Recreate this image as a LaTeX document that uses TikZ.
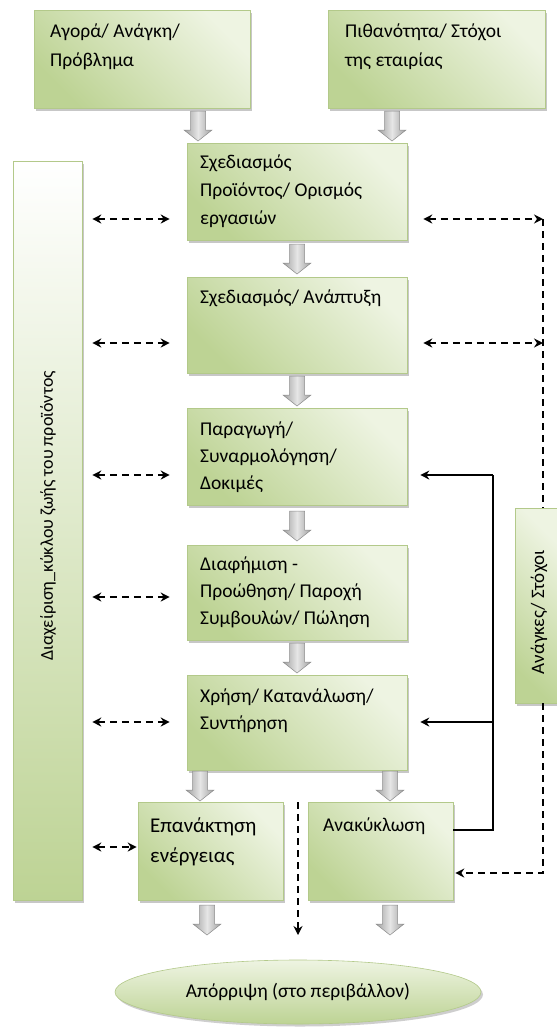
\documentclass[tikz,border=0pt]{standalone}
\usepackage{fontspec}
\setmainfont{Carlito}
\usetikzlibrary{shapes.geometric,shadows,arrows.meta}
\definecolor{boxdark}{HTML}{BDD394}
\definecolor{boxlight}{HTML}{EEF4E2}
\definecolor{boxline}{HTML}{B3C98A}
\definecolor{arrowdark}{HTML}{A0A0A0}
\definecolor{arrowlight}{HTML}{E6E6E6}
\definecolor{arrowline}{HTML}{8C8C8C}
% multi-line box caption, baseline of the first line as reference
\newcommand\blocklines[3]{\parbox[t]{8cm}{\raggedright\fontsize{#1}{#2}\selectfont #3}}

\begin{document}
\begin{tikzpicture}[x=1pt,y=-1pt,
  greenbox/.style={draw=boxline, line width=0.6pt,
    drop shadow={shadow xshift=2pt, shadow yshift=-2.5pt, fill=black!55, opacity=0.4},
    top color=boxlight, bottom color=boxdark, shading angle=-45, inner sep=0pt},
  sidebar/.style={draw=boxline, line width=0.6pt,
    drop shadow={shadow xshift=2pt, shadow yshift=-2.5pt, fill=black!55, opacity=0.4},
    top color=white, bottom color=boxdark, inner sep=0pt},
  boxtext/.style={anchor=base west, inner sep=0pt},
  dashline/.style={line width=1.8pt, dash pattern=on 7pt off 5pt},
  dasharrow/.style={dashline, {Stealth[length=9pt,width=9pt]}-{Stealth[length=9pt,width=9pt]}},
  dashtip/.style={dashline, -{Stealth[length=9pt,width=9pt]}},
  solidtip/.style={line width=1.3pt, -{Stealth[length=9pt,width=9pt]}},
  pics/downarrow/.style={code={
    \shade[draw=arrowline, line width=0.5pt, left color=arrowdark, right color=arrowdark, middle color=arrowlight]
      (-7.5,0) -- (7.5,0) -- (7.5,19) -- (14,19) -- (0,30) -- (-14,19) -- (-7.5,19) -- cycle;
  }}
]
\useasboundingbox (0,0) rectangle (557,1029);
\fill[white] (0,0) rectangle (557,1029);

% boxes
\node[greenbox, minimum width=216pt, minimum height=98pt] (A) at (142,59) {};
\node[greenbox, minimum width=217pt, minimum height=98pt] (B) at (436.5,59) {};
\node[greenbox, minimum width=220pt, minimum height=97pt] (C) at (297,191.5) {};
\node[greenbox, minimum width=220pt, minimum height=96pt] (D) at (297,325) {};
\node[greenbox, minimum width=220pt, minimum height=97pt] (E) at (297,456.5) {};
\node[greenbox, minimum width=220pt, minimum height=95pt] (F) at (297,592.5) {};
\node[greenbox, minimum width=220pt, minimum height=95pt] (G) at (297,722.5) {};
\node[greenbox, minimum width=145pt, minimum height=98pt] (H) at (210.5,851) {};
\node[greenbox, minimum width=145pt, minimum height=98pt] (I) at (380.5,851) {};
\node[sidebar, minimum width=69pt, minimum height=739pt] (bar) at (47.5,530.5) {};
\node[greenbox, minimum width=42pt, minimum height=195pt] (needs) at (536,605.5) {};
\node[ellipse, draw=boxline, line width=0.6pt,
  drop shadow={shadow xshift=2pt, shadow yshift=-2.5pt, fill=black!55, opacity=0.35},
  top color=boxlight, bottom color=boxdark, minimum width=366pt, minimum height=64pt,
  font=\fontsize{19.5}{23}\selectfont] (out) at (298,992) {Απόρριψη (στο περιβάλλον)};

% captions
\node[boxtext] (At) at (50,37) {\blocklines{19.5}{29}{Αγορά/ Ανάγκη/\\Πρόβλημα}};
\node[boxtext] (Bt) at (345,37) {\blocklines{19.5}{29}{Πιθανότητα/ Στόχοι\\της εταιρίας}};
\node[boxtext] (Ct) at (200,168) {\blocklines{19.5}{28}{Σχεδιασμός\\Προϊόντος/ Ορισμός\\εργασιών}};
\node[boxtext] (Dt) at (200,303) {\blocklines{19.5}{28}{Σχεδιασμός/ Ανάπτυξη}};
\node[boxtext] (Et) at (200,435) {\blocklines{19.5}{27}{Παραγωγή/\\Συναρμολόγηση/\\Δοκιμές}};
\node[boxtext] (Ft) at (200,570) {\blocklines{19.5}{27}{Διαφήμιση -\\Προώθηση/ Παροχή\\Συμβουλών/ Πώληση}};
\node[boxtext] (Gt) at (200,702) {\blocklines{19.5}{27}{Χρήση/ Κατανάλωση/\\Συντήρηση}};
\node[boxtext] (Ht) at (150,832) {\blocklines{21}{30}{Επανάκτηση\\ενέργειας}};
\node[boxtext] (It) at (323,831) {\blocklines{19.5}{28}{Ανακύκλωση}};
\node[rotate=90, inner sep=0pt, font=\fontsize{18}{22}\selectfont] (bart) at (48,516) {Διαχείριση\_κύκλου ζωής του προϊόντος};
\node[rotate=90, inner sep=0pt, font=\fontsize{19}{22}\selectfont] (needst) at (539,612) {Ανάγκες/ Στόχοι};

% flow arrows
\pic (aAC) at (198,111) {downarrow};
\pic (aBC) at (392,111) {downarrow};
\pic (aCD) at (297,244) {downarrow};
\pic (aDE) at (297,376) {downarrow};
\pic (aEF) at (297,511) {downarrow};
\pic (aFG) at (297,643) {downarrow};
\pic (aGH) at (200,771) {downarrow};
\pic (aGI) at (390,771) {downarrow};
\pic (aHo) at (207,905) {downarrow};
\pic (aIo) at (390,905) {downarrow};

% levels of the side links
\coordinate (yC) at (0,219);
\coordinate (yD) at (0,343);
\coordinate (yE) at (0,475);
\coordinate (yF) at (0,597);
\coordinate (yG) at (0,722);
\coordinate (yH) at (0,847);

% life-cycle management links
\draw[dasharrow] ([xshift=10pt]bar.east |- yC) -- ([xshift=-17pt]C.west |- yC);
\draw[dasharrow] ([xshift=10pt]bar.east |- yD) -- ([xshift=-17pt]D.west |- yD);
\draw[dasharrow] ([xshift=10pt]bar.east |- yE) -- ([xshift=-17pt]E.west |- yE);
\draw[dasharrow] ([xshift=10pt]bar.east |- yF) -- ([xshift=-17pt]F.west |- yF);
\draw[dasharrow] ([xshift=10pt]bar.east |- yG) -- ([xshift=-17pt]G.west |- yG);
\draw[dasharrow] ([xshift=10pt]bar.east |- yH) -- ([xshift=-1pt]H.west |- yH);

% needs / goals loop
\coordinate (rC) at (543,219);
\coordinate (rD) at (543,343);
\coordinate (rI) at (543,873);
\draw[dasharrow] ([xshift=16pt]C.east |- rC) -- (rC);
\draw[dasharrow] ([xshift=16pt]D.east |- rD) -- (rD);
\draw[dashline] (rC) -- (needs.north -| rC);
\draw[dashtip] (needs.south -| rI) -- (rI) -- ([xshift=2pt]I.east |- rI);

% recycling feedback
\coordinate (sI) at (493,830);
\coordinate (sE) at (493,475);
\coordinate (sG) at (493,722);
\draw[line width=1.3pt] (I.east |- sI) -- (sI) -- (sE);
\draw[solidtip] (sE) -- ([xshift=13pt]E.east |- sE);
\draw[solidtip] (sG) -- ([xshift=13pt]G.east |- sG);

% direct disposal
\coordinate (dtop) at (298,802);
\coordinate (dbot) at (298,935);
\draw[dashtip] (dtop) -- (dbot);
\end{tikzpicture}
\end{document}
